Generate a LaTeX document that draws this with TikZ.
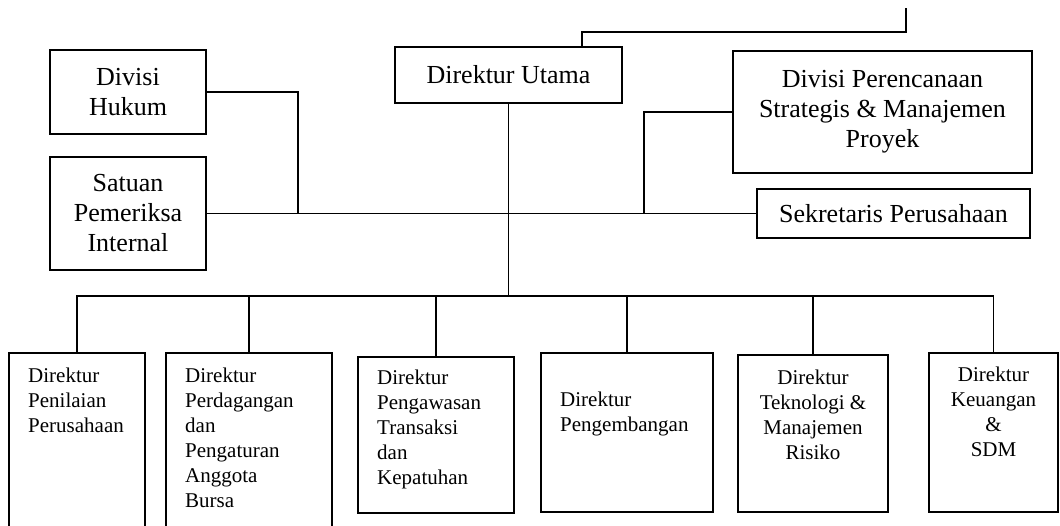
\documentclass[tikz,border=0pt]{standalone}
\usepackage{fontspec}
\setmainfont{Liberation Serif}
\usetikzlibrary{positioning}

\tikzset{
  box/.style 2 args={draw, line width=2pt, inner sep=0pt, align=center,
    minimum width=#1, minimum height=#2, font=\fontsize{26}{30}\selectfont},
  lbl/.style={inner sep=0pt, align=left, font=\fontsize{21}{25}\selectfont},
  clbl/.style={lbl, align=center},
  link/.style={line width=1.9pt}
}

\begin{document}
\begin{tikzpicture}[x=1pt, y=-1pt]
  \clip (0,0) rectangle (1060,525);

  \coordinate (top) at (906,8);
  \coordinate (tj) at (582,32);
  \coordinate (jl) at (298,213.5);
  \coordinate (jr) at (644,213.5);
  \coordinate (bar) at (506,296);

  % pimpinan dan staf
  \node[box={227pt}{56pt}] (dir) at (508.5,75) {Direktur Utama};
  \node[box={156pt}{84pt}] (hukum) at (128,92) {Divisi\\Hukum};
  \node[box={156pt}{113pt}] (spi) at (128,213.5) {Satuan\\Pemeriksa\\Internal};
  \node[box={299pt}{122pt}] (psm) at (882.5,112)
    {Divisi Perencanaan\\Strategis \& Manajemen\\Proyek};
  \node[box={273pt}{49pt}] (sek) at (893.5,213.5) {Sekretaris Perusahaan};

  % direktur
  \node[box={136pt}{207pt}] (b1) at (77,456.5) {};
  \node[box={166pt}{207pt}] (b2) at (249,456.5) {};
  \node[box={156pt}{156pt}] (b3) at (436,435) {};
  \node[box={172pt}{159pt}] (b4) at (627,432.5) {};
  \node[box={150pt}{157pt}] (b5) at (813,433.5) {};
  \node[box={129pt}{159pt}] (b6) at (993.5,432.5) {};

  \node[lbl, below right=15.7pt and 20pt of b1.north west] (t1)
    {Direktur\\Penilaian\\Perusahaan};
  \node[lbl, below right=15.7pt and 20pt of b2.north west] (t2)
    {Direktur\\Perdagangan\\dan\\Pengaturan\\Anggota\\Bursa};
  \node[lbl, below right=13.7pt and 20pt of b3.north west] (t3)
    {Direktur\\Pengawasan\\Transaksi\\dan\\Kepatuhan};
  \node[lbl, below right=39.7pt and 20pt of b4.north west] (t4)
    {Direktur\\Pengembangan};
  \node[clbl, below=15.7pt of b5.north] (t5)
    {Direktur\\Teknologi \&\\Manajemen\\Risiko};
  \node[clbl, below=14.7pt of b6.north] (t6)
    {Direktur\\Keuangan\\\&\\SDM};

  % garis
  \draw[link] (tj |- dir.north) -- (tj) -| (top);
  \draw[link] (spi.east) -- (sek.west);
  \draw[link] (hukum.east) -| (jl);
  \draw[link] (psm.west) -| (jr);
  \draw[link] (dir.south) -- (dir.south |- bar);
  \draw[link] (b1.north) |- (bar) -| (b6.north);
  \foreach \b in {b2,b3,b4,b5}
    \draw[link] (\b.north) -- (\b.north |- bar);
\end{tikzpicture}
\end{document}
